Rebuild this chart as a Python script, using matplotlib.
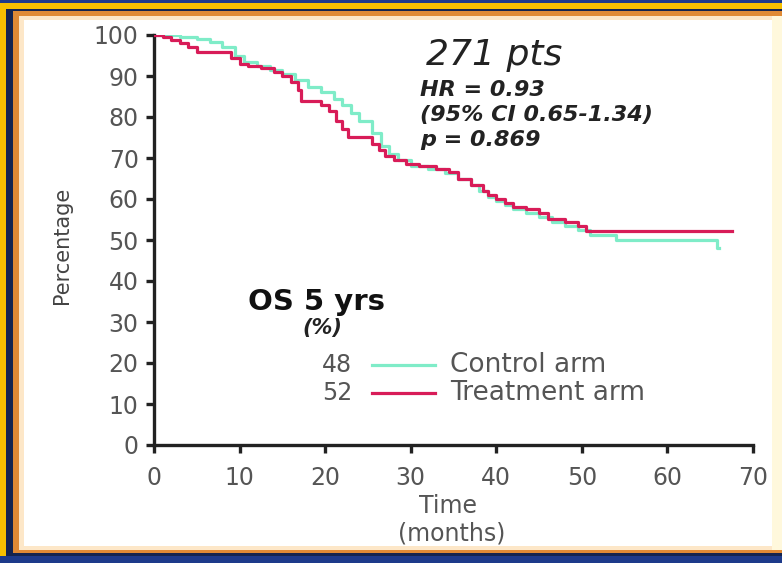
import matplotlib
matplotlib.use("Agg")
import matplotlib.pyplot as plt
from matplotlib.patches import Rectangle

# ---- data ----
trt_t = [0, 1, 2, 3, 4, 5, 9, 10, 11, 12.5, 14, 15, 16, 16.8, 17.2, 19.5, 20.5, 21.3, 22, 22.7,
         25.5, 26.3, 27, 28, 29.5, 31, 33, 34.5, 35.5, 37, 38.5, 39, 40, 41, 42, 43.5, 45, 46, 48, 49.5,
         50.5, 67.5]
trt_s = [100, 99.5, 98.8, 98, 97, 95.8, 94.5, 93, 92.5, 92, 91, 90, 88.5, 86.5, 84, 83, 81.5, 79, 77, 75.2,
         73.5, 72, 70.5, 69.5, 68.5, 68, 67.3, 66.5, 65, 63.5, 62, 61, 60, 59, 58, 57.5, 56.5, 55.2, 54.4, 53.3,
         52.2, 52.2]
ctl_t = [0, 3, 5, 6.5, 8, 9.5, 10.5, 12, 13.5, 15, 16.5, 18, 19.5, 21, 22, 23, 24, 25.5, 26.5, 27.5,
         28.5, 30, 32, 34, 35.5, 37, 38, 39, 40, 41, 42, 43.5, 45, 46.5, 48, 49.5, 51, 54, 65.8, 66]
ctl_s = [100, 99.5, 99, 98.3, 97, 95, 93.5, 92.5, 91.5, 90.5, 89, 87.3, 86, 84.5, 83, 81, 79, 76, 73, 71,
         69.5, 68, 67.3, 66.3, 65, 63.3, 62, 60.5, 59.5, 58.5, 57.5, 56.5, 55.5, 54.5, 53.5, 52.5, 51.2, 50, 48, 48]
xticks = [0, 10, 20, 30, 40, 50, 60, 70]
yticks = [0, 10, 20, 30, 40, 50, 60, 70, 80, 90, 100]
os5_ctl = "48"
os5_trt = "52"

W, H = 782, 563
fig = plt.figure(figsize=(W / 100, H / 100), dpi=100)

def fx(x):
    return x / W

def fy(y):
    return 1 - y / H

def rect(x0, y0, x1, y1, color):
    fig.add_artist(Rectangle((fx(x0), fy(y1)), fx(x1) - fx(x0), fy(y0) - fy(y1),
                             transform=fig.transFigure, color=color, zorder=-10, lw=0))

# ---- frame ----
rect(0, 0, W, H, "#1d3a8a")
rect(0, 3, W, 556, "#f6bf00")
rect(6, 9, W, 556, "#14244f")
rect(13, 11, W, 553, "#e08a35")
rect(19, 16, W, 550, "#fde7c8")
rect(24, 20, 772, 546, "#ffffff")
rect(772, 16, W, 550, "#fff8dc")

# ---- axes ----
ax = fig.add_axes([fx(154), fy(445), fx(753) - fx(154), fy(35) - fy(445)])
ax.patch.set_visible(False)
ax.set_xlim(0, 70)
ax.set_ylim(0, 100)
for s in ["top", "right"]:
    ax.spines[s].set_visible(False)
for s in ["left", "bottom"]:
    ax.spines[s].set_linewidth(2.4)
    ax.spines[s].set_color("#222222")
ax.set_xticks(xticks)
ax.set_yticks(yticks)
ax.tick_params(axis="both", length=6, width=2.4, color="#222222", labelcolor="#555555", labelsize=17)
ax.tick_params(axis="x", pad=9)
ax.tick_params(axis="y", pad=5)

ax.step(ctl_t, ctl_s, where="post", color="#7fecc8", lw=2.3, zorder=2)
ax.step(trt_t, trt_s, where="post", color="#d81c58", lw=2.3, zorder=3)

# ---- texts ----
fig.text(fx(62), fy(245), "Percentage", rotation=90, ha="center", va="center", fontsize=15, color="#444444")
fig.text(fx(448), fy(506), "Time", ha="center", va="center", fontsize=17, color="#555555")
fig.text(fx(452), fy(533), "(months)", ha="center", va="center", fontsize=17, color="#555555")

fig.text(fx(426), fy(55), "271 pts", ha="left", va="center", fontsize=26, style="italic", color="#222222")
fig.text(fx(420), fy(90), "HR = 0.93", ha="left", va="center", fontsize=16, style="italic", weight="bold", color="#222222")
fig.text(fx(420), fy(115), "(95% CI 0.65-1.34)", ha="left", va="center", fontsize=16, style="italic", weight="bold", color="#222222")
fig.text(fx(420), fy(140), "p = 0.869", ha="left", va="center", fontsize=16, style="italic", weight="bold", color="#222222")

fig.text(fx(248), fy(302), "OS 5 yrs", ha="left", va="center", fontsize=21, weight="bold", color="#111111")
fig.text(fx(302), fy(328), "(%)", ha="left", va="center", fontsize=15, weight="bold", style="italic", color="#222222")
fig.text(fx(352), fy(365), os5_ctl, ha="right", va="center", fontsize=17, color="#555555")
fig.text(fx(352), fy(393), os5_trt, ha="right", va="center", fontsize=17, color="#555555")
fig.add_artist(plt.Line2D([fx(372), fx(435)], [fy(365), fy(365)], transform=fig.transFigure, color="#7fecc8", lw=2.3))
fig.add_artist(plt.Line2D([fx(372), fx(435)], [fy(393), fy(393)], transform=fig.transFigure, color="#d81c58", lw=2.3))
fig.text(fx(450), fy(365), "Control arm", ha="left", va="center", fontsize=19, color="#555555")
fig.text(fx(450), fy(393), "Treatment arm", ha="left", va="center", fontsize=19, color="#555555")

fig.savefig("out.png", dpi=100)
